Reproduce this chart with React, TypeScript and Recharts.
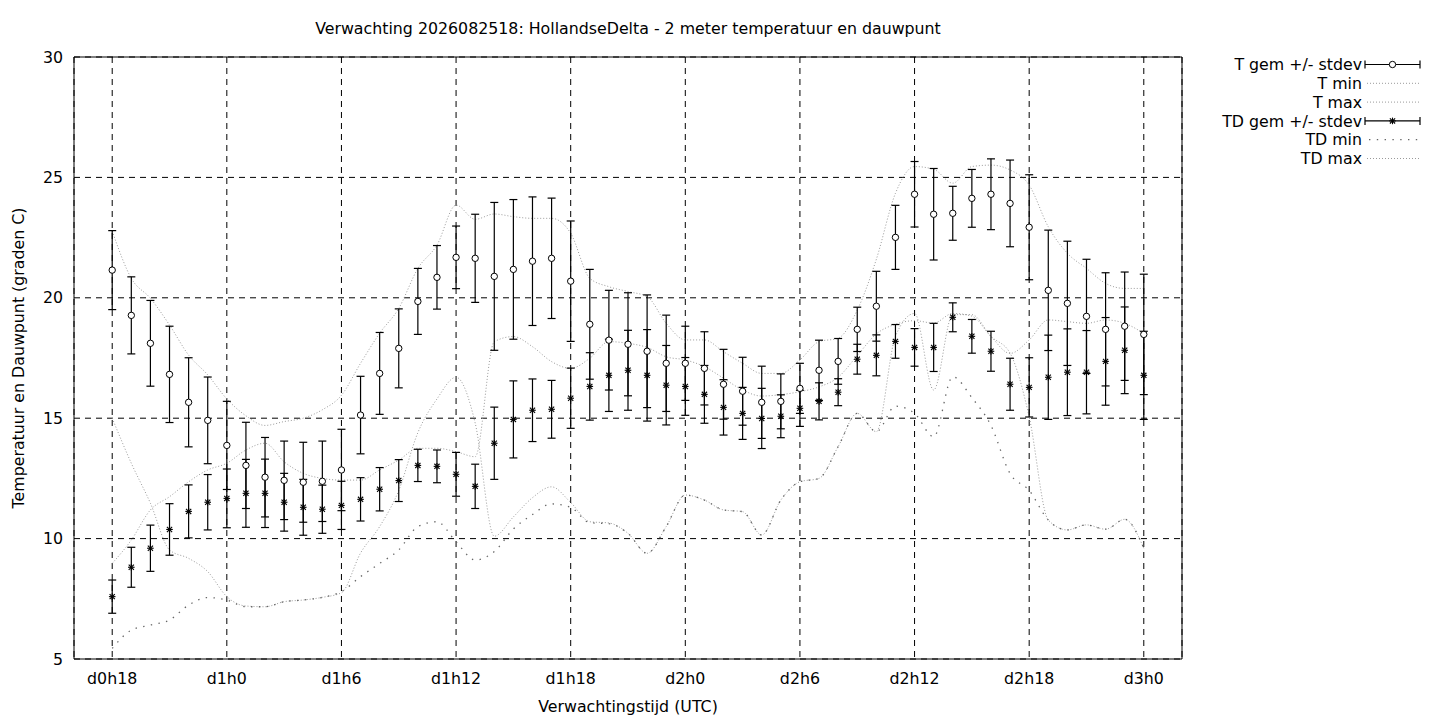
import {
  ComposedChart,
  Line,
  Scatter,
  ErrorBar,
  XAxis,
  YAxis,
  CartesianGrid,
  ReferenceArea,
} from "recharts";

// forecast hours since d0h0
const hours = [
  18, 19, 20, 21, 22, 23, 24, 25, 26, 27, 28, 29, 30, 31, 32, 33, 34, 35, 36,
  37, 38, 39, 40, 41, 42, 43, 44, 45, 46, 47, 48, 49, 50, 51, 52, 53, 54, 55,
  56, 57, 58, 59, 60, 61, 62, 63, 64, 65, 66, 67, 68, 69, 70, 71, 72,
];

const tickHours = [18, 24, 30, 36, 42, 48, 54, 60, 66, 72];
const tickLabels = ["d0h18", "d1h0", "d1h6", "d1h12", "d1h18", "d2h0", "d2h6", "d2h12", "d2h18", "d3h0"];
const yTicks = [5, 10, 15, 20, 25, 30];

const tGem = [
  21.15, 19.27, 18.11, 16.82, 15.66, 14.91, 13.87, 13.04, 12.55, 12.42,
  12.34, 12.38, 12.85, 15.13, 16.86, 17.9, 19.85, 20.85, 21.68, 21.64,
  20.89, 21.18, 21.52, 21.64, 20.69, 18.9, 18.24, 18.07, 17.78, 17.28,
  17.28, 17.07, 16.41, 16.12, 15.66, 15.7, 16.24, 16.99, 17.36, 18.69,
  19.65, 22.51, 24.3, 23.47, 23.51, 24.13, 24.3, 23.92, 22.93, 20.31,
  19.77, 19.23, 18.69, 18.82, 18.48,
];
const tStdev = [
  1.64, 1.6, 1.78, 2.0, 1.85, 1.8, 1.83, 1.79, 1.65, 1.63,
  1.66, 1.67, 1.69, 1.61, 1.7, 1.64, 1.37, 1.32, 1.3, 1.83,
  3.07, 2.9, 2.67, 2.5, 2.5, 2.28, 2.07, 2.14, 2.34, 2.0,
  1.54, 1.52, 1.45, 1.41, 1.5, 1.14, 1.04, 1.25, 0.95, 0.92,
  1.45, 1.33, 1.36, 1.9, 1.12, 1.2, 1.47, 1.8, 2.18, 2.5,
  2.58, 2.37, 2.35, 2.25, 2.5,
];
const tMin = [
  15.0, 13.13, 11.47, 9.53, 9.18, 8.63, 7.59, 7.2, 7.17, 7.38,
  7.45, 7.56, 7.75, 9.4, 10.5, 12.0, 14.4, 15.8, 16.7, 14.8,
  10.1, 10.9, 11.7, 12.15, 11.5, 10.7, 10.65, 10.22, 9.39, 10.5,
  11.81, 11.6, 11.19, 11.12, 10.15, 11.6, 12.36, 12.5, 13.82, 15.2,
  14.44, 18.4, 19.35, 16.17, 19.3, 19.3, 18.4, 17.7, 15.06, 10.77,
  10.36, 10.57, 10.39, 10.8, 9.6,
];
const tMax = [
  22.77, 20.81, 19.98, 18.87, 17.62, 16.8, 15.8, 15.1, 14.7, 14.86,
  15.0, 15.35, 15.95, 17.28, 18.53, 19.56, 21.22, 22.19, 23.85, 23.26,
  23.48, 23.37, 23.3, 23.3, 22.68, 20.81, 20.46, 20.26, 20.05, 18.94,
  18.25, 18.25, 17.76, 17.28, 16.86, 16.86, 17.42, 18.18, 18.32, 19.49,
  21.6, 24.34, 25.45, 25.34, 24.76, 25.45, 25.51, 25.31, 24.68, 22.95,
  21.85, 21.22, 20.6, 20.39, 20.39,
];

const tdGem = [
  7.59, 8.81, 9.6, 10.38, 11.13, 11.51, 11.67, 11.88, 11.88, 11.51,
  11.3, 11.22, 11.38, 11.63, 12.05, 12.41, 13.04, 13.0, 12.67, 12.17,
  13.96, 14.95, 15.33, 15.37, 15.83, 16.32, 16.78, 16.99, 16.78, 16.37,
  16.32, 15.99, 15.45, 15.2, 14.99, 15.08, 15.41, 15.7, 16.08, 17.45,
  17.61, 18.19, 17.94, 17.94, 19.19, 18.4, 17.78, 16.41, 16.28, 16.7,
  16.91, 16.91, 17.36, 17.82, 16.78,
];
const tdStdev = [
  0.69, 0.83, 0.96, 1.07, 1.1, 1.15, 1.22, 1.41, 1.42, 1.2,
  1.16, 1.0, 1.0, 0.9, 0.9, 0.87, 0.67, 0.68, 0.91, 0.92,
  1.5, 1.6, 1.3, 1.2, 1.25, 1.4, 1.5, 1.66, 1.9, 1.65,
  1.2, 1.2, 1.15, 1.08, 1.25, 0.89, 0.75, 0.77, 0.56, 0.62,
  0.85, 0.7, 0.78, 1.0, 0.6, 0.7, 0.83, 1.08, 1.23, 1.75,
  1.8, 1.73, 1.82, 1.8, 1.83,
];
const tdMin = [
  5.44, 6.2, 6.41, 6.62, 7.24, 7.55, 7.45, 7.17, 7.17, 7.38,
  7.45, 7.56, 7.8, 8.42, 8.97, 9.53, 10.5, 10.7, 9.87, 9.11,
  9.46, 10.4, 11.0, 11.44, 11.3, 10.66, 10.62, 10.22, 9.39, 10.5,
  11.81, 11.6, 11.19, 11.12, 10.15, 11.6, 12.36, 12.5, 13.82, 15.2,
  14.44, 15.5, 15.2, 14.23, 16.72, 15.85, 14.7, 12.7, 12.0, 10.77,
  10.36, 10.57, 10.39, 10.8, 9.6,
];
const tdMax = [
  8.97, 9.94, 11.19, 11.74, 12.36, 12.85, 13.13, 13.68, 13.96, 13.19,
  12.71, 12.5, 12.43, 12.43, 12.85, 13.26, 13.75, 13.75, 13.61, 13.4,
  18.18, 18.39, 17.97, 17.35, 17.07, 17.49, 18.18, 18.11, 17.94, 17.55,
  17.42, 17.14, 16.66, 16.17, 15.92, 15.98, 16.1, 16.3, 16.7, 17.6,
  18.5, 18.9, 19.05, 18.95, 19.35, 19.24, 18.39, 17.69, 18.25, 19.08,
  19.01, 18.94, 19.08, 18.94, 18.52,
];

const data = hours.map((h, i) => ({
  h,
  tGem: tGem[i],
  tSd: tStdev[i],
  tMin: tMin[i],
  tMax: tMax[i],
  tdGem: tdGem[i],
  tdSd: tdStdev[i],
  tdMin: tdMin[i],
  tdMax: tdMax[i],
}));

const FONT = "DejaVu Sans";
const FS = 15.8;
const W = 1424;
const H = 712;

const denseDots = { stroke: "#9a9a9a", strokeDasharray: "1 2", strokeWidth: 1 };
const sparseDots = { stroke: "#666", strokeDasharray: "1.4 6.4", strokeWidth: 1.3 };

const CircleMark = (p: any) => (
  <circle cx={p.cx} cy={p.cy} r={3.2} fill="#fff" stroke="#000" strokeWidth={1} />
);

const StarMark = (p: any) => {
  const { cx, cy } = p;
  const s = 3.3;
  const d = 2.6;
  return (
    <g stroke="#000" strokeWidth={1.1}>
      <line x1={cx - s} y1={cy} x2={cx + s} y2={cy} />
      <line x1={cx} y1={cy - s} x2={cx} y2={cy + s} />
      <line x1={cx - d} y1={cy - d} x2={cx + d} y2={cy + d} />
      <line x1={cx - d} y1={cy + d} x2={cx + d} y2={cy - d} />
    </g>
  );
};

const legendItems = [
  { label: "T gem +/- stdev", kind: "errT" },
  { label: "T min", kind: "dense" },
  { label: "T max", kind: "dense" },
  { label: "TD gem +/- stdev", kind: "errTD" },
  { label: "TD min", kind: "sparse" },
  { label: "TD max", kind: "dense" },
];

const Overlay = () => {
  const textX = 1354;
  const x0 = 1357;
  const x1 = 1412;
  return (
    <svg
      width={W}
      height={H}
      style={{ position: "absolute", left: 0, top: 0, pointerEvents: "none" }}
      fontFamily={FONT}
      fontSize={FS}
    >
      <text x={620} y={26} textAnchor="middle" fill="#000">
        Verwachting 2026082518: HollandseDelta - 2 meter temperatuur en dauwpunt
      </text>
      <text x={620} y={704} textAnchor="middle" fill="#000">
        Verwachtingstijd (UTC)
      </text>
      <text x={16} y={350} textAnchor="middle" fill="#000" transform="rotate(-90 16 350)">
        Temperatuur en Dauwpunt (graden C)
      </text>
      {legendItems.map((it, i) => {
        const y = 56.5 + i * 18.8;
        return (
          <g key={it.label}>
            <text x={textX} y={y + 5.6} textAnchor="end" fill="#000">
              {it.label}
            </text>
            {it.kind === "dense" && <line x1={x0 + 2} y1={y} x2={x1} y2={y} {...denseDots} />}
            {it.kind === "sparse" && <line x1={x0 + 4} y1={y} x2={x1} y2={y} {...sparseDots} />}
            {(it.kind === "errT" || it.kind === "errTD") && (
              <g stroke="#000" strokeWidth={1.2}>
                <line x1={x0} y1={y} x2={x1} y2={y} />
                <line x1={x0} y1={y - 4} x2={x0} y2={y + 4} />
                <line x1={x1} y1={y - 4} x2={x1} y2={y + 4} />
              </g>
            )}
            {it.kind === "errT" && <CircleMark cx={(x0 + x1) / 2} cy={y} />}
            {it.kind === "errTD" && <StarMark cx={(x0 + x1) / 2} cy={y} />}
          </g>
        );
      })}
    </svg>
  );
};

const App = () => {
  const tick = { fill: "#000", fontSize: FS, fontFamily: FONT };
  return (
    <div style={{ position: "relative", width: W, height: H }}>
      <ComposedChart
        width={W}
        height={H}
        data={data}
        margin={{ top: 49, right: 250, bottom: 0, left: 0 }}
      >
        <CartesianGrid stroke="#000" strokeDasharray="6 5" />
        <XAxis
          type="number"
          dataKey="h"
          domain={[16, 74]}
          ticks={tickHours}
          interval={0}
          tickFormatter={(v: number) => tickLabels[tickHours.indexOf(v)]}
          axisLine={false}
          tickLine={false}
          tickSize={0}
          tickMargin={14}
          height={61}
          tick={tick}
          allowDataOverflow
        />
        <YAxis
          type="number"
          domain={[5, 30]}
          ticks={yTicks}
          interval={0}
          axisLine={false}
          tickLine={false}
          tickSize={0}
          tickMargin={11}
          width={66}
          tick={tick}
          allowDataOverflow
        />
        <ReferenceArea
          x1={16}
          x2={74}
          y1={5}
          y2={30}
          fill="none"
          stroke="#000"
          strokeWidth={1}
          ifOverflow="visible"
        />
        <Line type="monotone" dataKey="tMin" dot={false} activeDot={false} {...denseDots} isAnimationActive={false} />
        <Line type="monotone" dataKey="tMax" dot={false} activeDot={false} {...denseDots} isAnimationActive={false} />
        <Line type="monotone" dataKey="tdMin" dot={false} activeDot={false} {...sparseDots} isAnimationActive={false} />
        <Line type="monotone" dataKey="tdMax" dot={false} activeDot={false} {...denseDots} isAnimationActive={false} />
        <Scatter dataKey="tGem" shape={CircleMark} isAnimationActive={false}>
          <ErrorBar dataKey="tSd" direction="y" width={4} stroke="#000" strokeWidth={1.2} />
        </Scatter>
        <Scatter dataKey="tdGem" shape={StarMark} isAnimationActive={false}>
          <ErrorBar dataKey="tdSd" direction="y" width={4} stroke="#000" strokeWidth={1.2} />
        </Scatter>
      </ComposedChart>
      <Overlay />
    </div>
  );
};

export default App;
